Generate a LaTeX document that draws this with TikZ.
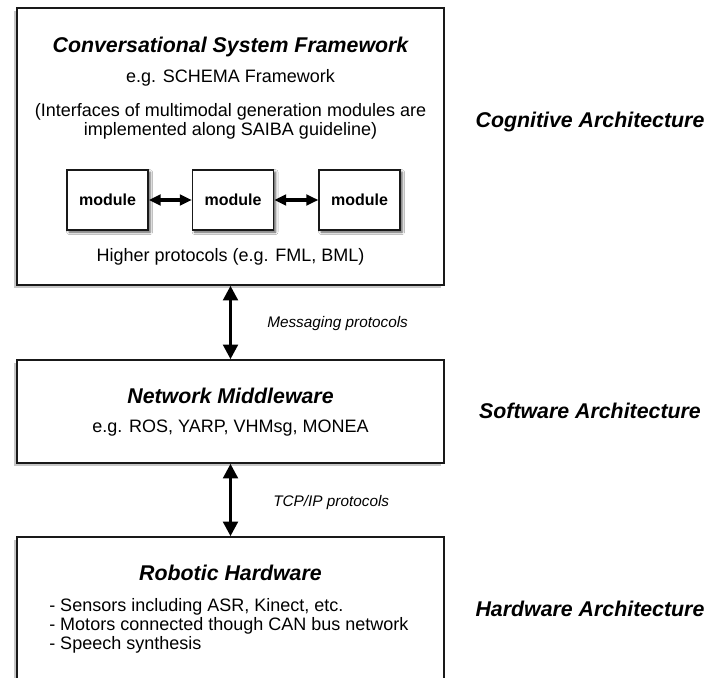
\documentclass[tikz,border=0pt]{standalone}
\usepackage{fontspec}
\setmainfont{Liberation Sans}
\usetikzlibrary{arrows.meta,shadows,shadows.blur}
\begin{document}
\begin{tikzpicture}[x=0.75pt,y=-0.75pt,
  layer/.style={draw=black!90,line width=1.2pt,fill=white,inner sep=0pt,
    minimum width=320.25pt,
    drop shadow={shadow xshift=-2.25pt,shadow yshift=-2.25pt,fill=black!22,opacity=1}},
  modbox/.style={draw=black!90,line width=1pt,fill=white,inner sep=0pt,
    minimum width=60.75pt,minimum height=45pt,
    font=\fontsize{12}{14}\selectfont\bfseries,
    blur shadow={shadow xshift=1.6pt,shadow yshift=-1.6pt,shadow blur radius=1.8pt,shadow opacity=65}},
  heading/.style={inner sep=0pt,anchor=base,font=\fontsize{16}{19}\selectfont\bfseries\itshape},
  body/.style={inner sep=0pt,anchor=base,font=\fontsize{13.5}{16}\selectfont},
  proto/.style={inner sep=0pt,anchor=base west,font=\fontsize{11.5}{14}\selectfont\itshape},
  item/.style={inner sep=0pt,anchor=base west,font=\fontsize{13.5}{16}\selectfont},
  smallarrow/.style={line width=2.6pt,{Triangle[length=9pt,width=8pt]}-{Triangle[length=9pt,width=8pt]}},
  bigarrow/.style={line width=2.4pt,{Triangle[length=11pt,width=11pt]}-{Triangle[length=11pt,width=11pt]}}
]
\useasboundingbox (0,0) rectangle (709,677);
\clip (0,0) rectangle (709,677);

% the three layers
\node[layer,minimum height=207.75pt] (frame) at (230.5,146.5) {};
\node[layer,minimum height=77.25pt] (mw) at (230.5,411.5) {};
\node[layer,minimum height=122.25pt] (hw) at (230.5,618.5) {};

% conversational system framework
\node[heading] (fT) at (230.5,53) {Conversational System Framework};
\node[body] (fE) at (230.5,83) {e.g. SCHEMA Framework};
\node[body] (fI1) at (230.5,117) {(Interfaces of multimodal generation modules are};
\node[body] (fI2) at (230.5,136) {implemented along SAIBA guideline)};

\node[modbox] (m1) at (107.5,200) {module};
\node[modbox] (m2) at (233,200) {module};
\node[modbox] (m3) at (359.5,200) {module};
\draw[smallarrow] (m1) -- (m2);
\draw[smallarrow] (m2) -- (m3);

\node[body] (fH) at (230.5,261) {Higher protocols (e.g. FML, BML)};

% network middleware
\node[heading] (mT) at (230.5,403) {Network Middleware};
\node[body] (mE) at (230.5,432) {e.g. ROS, YARP, VHMsg, MONEA};

% robotic hardware
\node[heading] (hT) at (230.5,580) {Robotic Hardware};
\node[item] (h1) at (49,611) {- Sensors including ASR, Kinect, etc.};
\node[item] (h2) at (49,630) {- Motors connected though CAN bus network};
\node[item] (h3) at (49,649) {- Speech synthesis};

% links between layers
\draw[bigarrow] (frame.south) -- (mw.north);
\draw[bigarrow] (mw.south) -- (hw.north);
\node[proto] (pMsg) at (267,327) {Messaging protocols};
\node[proto] (pTcp) at (273,506) {TCP/IP protocols};

% architecture levels
\node[heading] (aC) at (590,128) {Cognitive Architecture};
\node[heading] (aS) at (590,418) {Software Architecture};
\node[heading] (aH) at (590,616) {Hardware Architecture};
\end{tikzpicture}
\end{document}
